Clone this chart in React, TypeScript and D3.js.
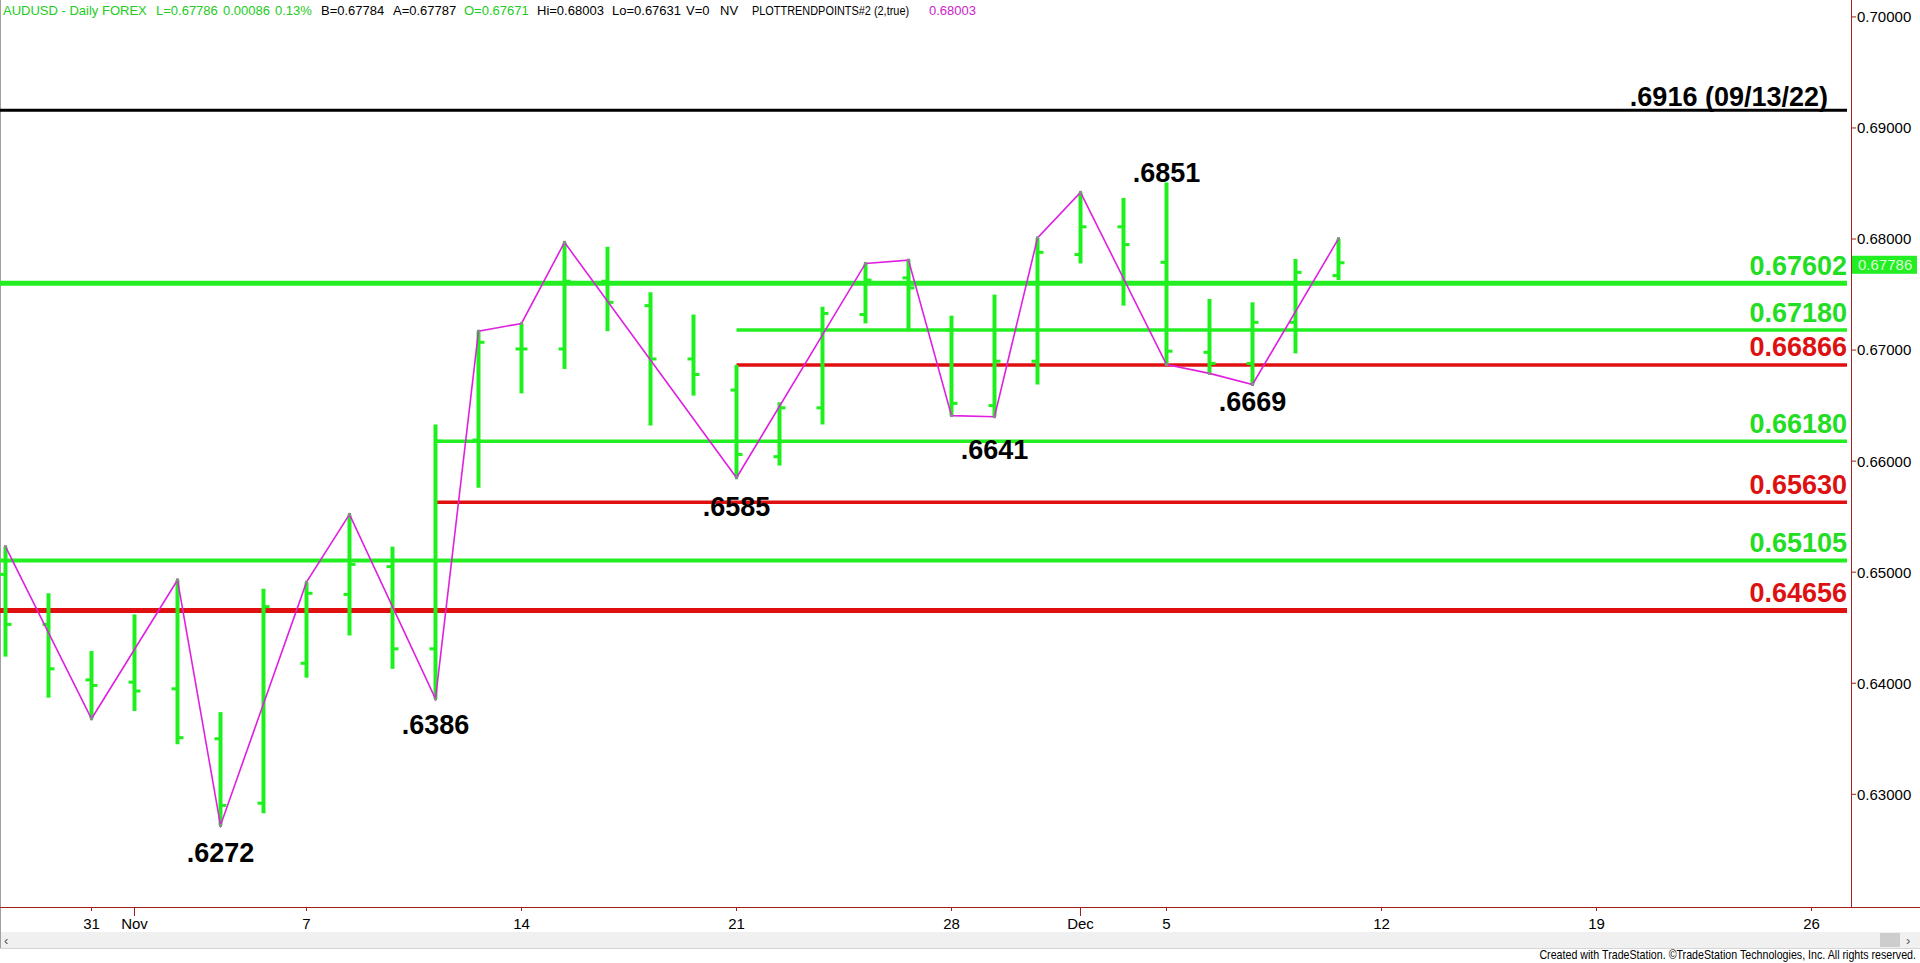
import * as d3 from "d3";

// daily bars, Oct 27 2022 -> Dec 9 2022
const dates = ["Oct 27", "Oct 28", "Oct 31", "Nov 1", "Nov 2", "Nov 3", "Nov 4", "Nov 7", "Nov 8", "Nov 9", "Nov 10",
  "Nov 11", "Nov 14", "Nov 15", "Nov 16", "Nov 17", "Nov 18", "Nov 21", "Nov 22", "Nov 23", "Nov 24", "Nov 25",
  "Nov 28", "Nov 29", "Nov 30", "Dec 1", "Dec 2", "Dec 5", "Dec 6", "Dec 7", "Dec 8", "Dec 9"];
const opens = [0.6498, 0.6453, 0.6403, 0.6401, 0.6395, 0.6350, 0.6292, 0.6418, 0.6480, 0.6505, 0.6431,
  0.6619, 0.6701, 0.6701, 0.6762, 0.6740, 0.6692, 0.6664, 0.6604, 0.6648, 0.6732, 0.6765,
  0.6718, 0.6650, 0.6690, 0.6786, 0.6811, 0.6779, 0.6698, 0.6688, 0.6725, 0.67671];
const highs = [0.6523, 0.6481, 0.6429, 0.6462, 0.6493, 0.6374, 0.6485, 0.6491, 0.6552, 0.6523, 0.6633,
  0.6717, 0.6724, 0.6797, 0.6793, 0.6752, 0.6732, 0.66866, 0.6653, 0.6739, 0.6778, 0.6781,
  0.6731, 0.6750, 0.6801, 0.6842, 0.6837, 0.6851, 0.6746, 0.6743, 0.6782, 0.68003];
const lows = [0.6424, 0.6387, 0.6368, 0.6375, 0.6345, 0.6272, 0.6283, 0.6405, 0.6443, 0.6413, 0.6386,
  0.6576, 0.6661, 0.6683, 0.6717, 0.6632, 0.6659, 0.6585, 0.6596, 0.6633, 0.6724, 0.6717,
  0.6641, 0.6640, 0.6669, 0.6778, 0.6740, 0.6687, 0.6679, 0.6669, 0.6697, 0.67631];
const closes = [0.6453, 0.6413, 0.6398, 0.6393, 0.6351, 0.6290, 0.6469, 0.6481, 0.6507, 0.6431, 0.6618,
  0.6707, 0.6701, 0.6762, 0.6743, 0.6692, 0.6678, 0.6606, 0.6648, 0.6733, 0.6763, 0.6756,
  0.6652, 0.6690, 0.6788, 0.6811, 0.6795, 0.6699, 0.6688, 0.6725, 0.6770, 0.67786];

// PLOTTRENDPOINTS swing points: bar index + which end of the bar
const trendIdx = [0, 2, 4, 5, 7, 8, 10, 11, 12, 13, 17, 20, 21, 22, 23, 24, 25, 27, 28, 29, 31];
const trendSide = ["H", "L", "H", "L", "H", "H", "L", "H", "H", "H", "L", "H", "H", "L", "L", "H", "H", "L", "L", "L", "H"];

// horizontal levels
const levelValues = [0.67602, 0.6718, 0.66866, 0.6618, 0.6563, 0.65105, 0.64656];
const levelLabels = ["0.67602", "0.67180", "0.66866", "0.66180", "0.65630", "0.65105", "0.64656"];
const levelTypes = ["g", "g", "r", "g", "r", "g", "r"];
const levelStartIdx = [null, 17, 17, 10, 10, null, null];

const oldHigh = 0.6916;
const oldHighLabel = ".6916 (09/13/22)";

// swing labels
const pivotIdx = [5, 10, 17, 23, 29, 27];
const pivotValues = [0.6272, 0.6386, 0.6585, 0.6641, 0.6669, 0.6851];
const pivotLabels = [".6272", ".6386", ".6585", ".6641", ".6669", ".6851"];

// axes
const dateTickIdx = [2, 3, 7, 12, 17, 22, 25, 27, 32, 37, 42];
const dateTickLabels = ["31", "Nov", "7", "14", "21", "28", "Dec", "5", "12", "19", "26"];
const monthTick = [false, true, false, false, false, false, true, false, false, false, false];
const priceTicks = [0.63, 0.64, 0.65, 0.66, 0.67, 0.68, 0.69, 0.70];

const W = 1920;
const H = 963;
const axisX = 1851;
const axisY = 907;
const labelRight = 1847;

const barGreen = "#1ef01e";
const lvlGreen = "#22ee22";
const lvlRed = "#e01010";
const txtGreen = "#22dd22";
const txtRed = "#dd1111";
const axisColor = "#a02020";
const font = "'Liberation Sans', Arial, sans-serif";

const levelWidths = [5, 3.5, 3.5, 3.5, 3.5, 4, 5];
const pivotDy = [37, 35, 38, 43, 27, 0];

function App() {
  const xScale = d3.scaleLinear().domain([0, 31]).range([5.5, 1338.5]);
  const yScale = d3.scaleLinear().domain([0.63, 0.70]).range([794.3, 16.9]);

  const trendLine = d3.line<number>()
    .x((d) => xScale(d))
    .y((d, k) => yScale(trendSide[k] === "H" ? highs[d] : lows[d]));

  const last = closes.length - 1;
  const yLast = yScale(closes[last]);

  return (
    <div>
      <style>{"body{margin:0;background:#fff}"}</style>
      <svg width={W} height={H} style={{display: "block"}} fontFamily={font}>
        <rect x={0} y={0} width={W} height={H} fill="#ffffff"/>

        {/* header */}
        <g fontSize={13}>
          <text x={3} y={15} fill="#22cc22">AUDUSD - Daily  FOREX</text>
          <text x={156} y={15} fill="#22cc22">L=0.67786</text>
          <text x={223} y={15} fill="#22cc22">0.00086</text>
          <text x={275} y={15} fill="#22cc22">0.13%</text>
          <text x={321} y={15} fill="#000">B=0.67784</text>
          <text x={393} y={15} fill="#000">A=0.67787</text>
          <text x={464} y={15} fill="#22cc22">O=0.67671</text>
          <text x={537} y={15} fill="#000">Hi=0.68003</text>
          <text x={612} y={15} fill="#000">Lo=0.67631</text>
          <text x={686} y={15} fill="#000">V=0</text>
          <text x={720} y={15} fill="#000">NV</text>
          <text transform="translate(752,15) scale(0.84,1)" fill="#000">PLOTTRENDPOINTS#2 (2,true)</text>
          <text x={929} y={15} fill="#cc22cc">0.68003</text>
        </g>

        {/* left border */}
        <line x1={0.5} y1={0} x2={0.5} y2={948} stroke="#a0a0a0" strokeWidth={1}/>

        {/* old high line */}
        <line x1={0} x2={labelRight} y1={yScale(oldHigh)} y2={yScale(oldHigh)} stroke="#000" strokeWidth={3}/>
        <text x={1828} y={yScale(oldHigh) - 4} textAnchor="end" fontSize={27} fontWeight="bold" fill="#000">
          {oldHighLabel}
        </text>

        {/* levels */}
        {levelValues.map((v, k) => {
          const y = yScale(v);
          const x1 = levelStartIdx[k] === null ? 0 : xScale(levelStartIdx[k] as number);
          return (
            <g key={"lvl" + k}>
              <line x1={x1} x2={labelRight} y1={y} y2={y}
                    stroke={levelTypes[k] === "g" ? lvlGreen : lvlRed} strokeWidth={levelWidths[k]}/>
              <text x={labelRight} y={y - 8.5} textAnchor="end" fontSize={27} fontWeight="bold"
                    fill={levelTypes[k] === "g" ? txtGreen : txtRed}>
                {levelLabels[k]}
              </text>
            </g>
          );
        })}

        {/* OHLC bars */}
        {dates.map((d, i) => {
          const x = xScale(i);
          return (
            <g key={d} stroke={barGreen}>
              <line x1={x} x2={x} y1={yScale(highs[i])} y2={yScale(lows[i])} strokeWidth={4}/>
              <line x1={x - 6} x2={x} y1={yScale(opens[i])} y2={yScale(opens[i])} strokeWidth={3}/>
              <line x1={x} x2={x + 6} y1={yScale(closes[i])} y2={yScale(closes[i])} strokeWidth={3}/>
            </g>
          );
        })}

        {/* trend points zigzag */}
        <path d={trendLine(trendIdx) || ""} fill="none" stroke="#e020e0" strokeWidth={1.6}/>
        {trendIdx.map((d, k) => (
          <rect key={"tp" + k} x={xScale(d) - 1.5}
                y={yScale(trendSide[k] === "H" ? highs[d] : lows[d]) - 1.5}
                width={3} height={3} fill="#8a8a8a"/>
        ))}

        {/* swing labels */}
        {pivotIdx.map((d, k) => (
          <text key={"pv" + k} x={xScale(d)} y={yScale(pivotValues[k]) + pivotDy[k]} textAnchor="middle"
                fontSize={27} fontWeight="bold" fill="#000">
            {pivotLabels[k]}
          </text>
        ))}

        {/* right price axis */}
        <line x1={axisX + 0.5} x2={axisX + 0.5} y1={0} y2={axisY} stroke={axisColor} strokeWidth={1}/>
        {priceTicks.map((p) => (
          <g key={"pt" + p}>
            <line x1={axisX} x2={axisX + 5} y1={yScale(p)} y2={yScale(p)} stroke={axisColor}/>
            <text x={axisX + 6} y={yScale(p)} dy="0.36em" fontSize={15} fill="#000">{p.toFixed(5)}</text>
          </g>
        ))}
        <rect x={axisX + 1} y={yLast - 7} width={65} height={18} fill={lvlGreen}/>
        <text x={axisX + 7} y={yLast + 7.5} fontSize={15} fill="#d8ffd8">{closes[last].toFixed(5)}</text>

        {/* bottom date axis */}
        <line x1={0} x2={W} y1={axisY + 0.5} y2={axisY + 0.5} stroke={axisColor} strokeWidth={1}/>
        {dateTickIdx.map((t, k) => (
          <g key={"dt" + k}>
            <line x1={xScale(t)} x2={xScale(t)} y1={axisY} y2={axisY + (monthTick[k] ? 9 : 4)} stroke={axisColor}/>
            <text x={xScale(t)} y={929} textAnchor="middle" fontSize={15} fill="#000">{dateTickLabels[k]}</text>
          </g>
        ))}

        {/* scrollbar strip */}
        <rect x={1} y={932} width={W - 1} height={16} fill="#f0f0f0"/>
        <line x1={0} x2={W} y1={948.5} y2={948.5} stroke="#d6d6d6"/>
        <text x={4} y={945} fontSize={13} fill="#555">‹</text>
        <rect x={1880} y={933} width={20} height={14} fill="#cdcdcd"/>
        <text x={1906} y={945} fontSize={13} fill="#555">›</text>

        <text transform="translate(1916,959) scale(0.89,1)" textAnchor="end" fontSize={12} fill="#000">
          Created with TradeStation. ©TradeStation Technologies, Inc. All rights reserved.
        </text>
      </svg>
    </div>
  );
}

export default App;
